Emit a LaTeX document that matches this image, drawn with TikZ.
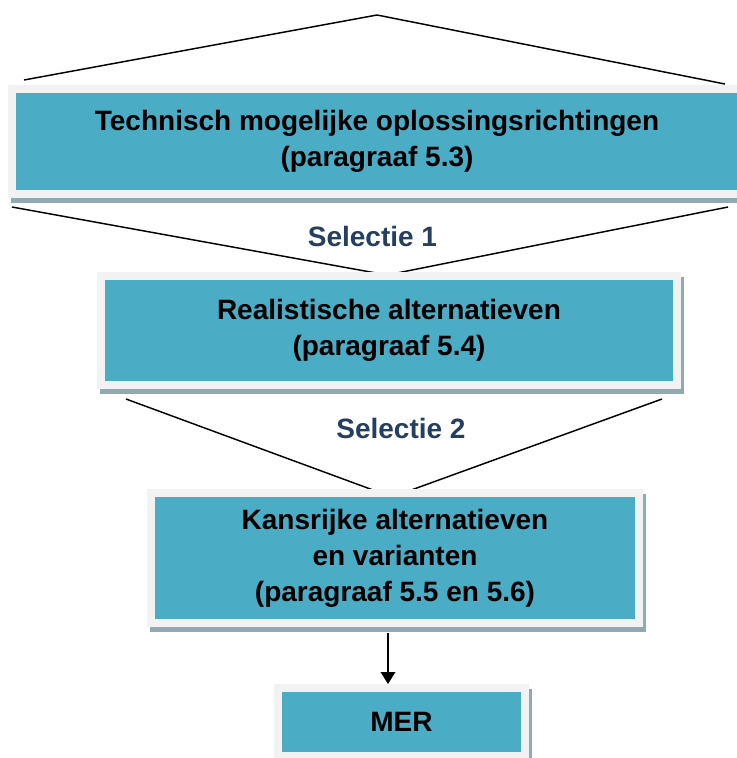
\documentclass[tikz,border=0pt]{standalone}
\usepackage{fontspec}
\setmainfont{Liberation Sans}
\usetikzlibrary{positioning,arrows.meta,calc,backgrounds}
\definecolor{stagefill}{RGB}{75,172,198}
\definecolor{stageframe}{RGB}{242,242,242}
\definecolor{stageshadow}{RGB}{143,170,177}
\definecolor{selectblue}{RGB}{36,63,96}

\begin{document}
\begin{tikzpicture}[x=0.75pt,y=-0.75pt,
  stagebox/.style={fill=stagefill,draw=stageframe,line width=6pt,align=center,inner sep=0pt,
    font=\fontsize{21}{27}\selectfont\bfseries},
  selnote/.style={text=selectblue,font=\fontsize{21}{27}\selectfont\bfseries},
  funnel/.style={line width=1.1pt}]

\useasboundingbox (0,0) rectangle (737,758);

\node[stagebox,minimum width=547.5pt,minimum height=78.75pt] (techbox) at (377,141.5) {Technisch mogelijke oplossingsrichtingen\\(paragraaf 5.3)};
\node[stagebox,minimum width=432pt,minimum height=81.75pt] (realbox) at (389,330.5) {Realistische alternatieven\\(paragraaf 5.4)};
\node[stagebox,minimum width=366pt,minimum height=97.5pt] (kansbox) at (395,558) {Kansrijke alternatieven\\en varianten\\(paragraaf 5.5 en 5.6)};
\node[stagebox,minimum width=185.25pt,minimum height=51pt] (merbox) at (401.5,722) {MER};

\node[selnote] (sel1) at (372.5,236) {Selectie 1};
\node[selnote] (sel2) at (401,428) {Selectie 2};

\coordinate (roofL) at (24,80);
\coordinate (roofT) at (377,15);
\coordinate (roofR) at (725,84);
\coordinate (s1L) at (12,207);
\coordinate (s1M) at (387,275);
\coordinate (s1R) at (728,207);
\coordinate (s2L) at (126,399);
\coordinate (s2M) at (392,497);
\coordinate (s2R) at (662,399);
\coordinate (arrowx) at (388,0);

\begin{scope}[on background layer]
\draw[funnel] (roofL) -- (roofT) -- (roofR);
\draw[funnel] (s1L) -- (s1M) -- (s1R);
\draw[funnel] (s2L) -- (s2M) -- (s2R);
\foreach \b in {techbox,realbox,kansbox,merbox}
  \fill[stageshadow] ($(\b.north west)+(3,5)$) rectangle ($(\b.south east)+(3,5)$);
\end{scope}

\draw[-{Triangle[length=9pt,width=11pt]},line width=1.1pt] ($(kansbox.south -| arrowx)+(0,6)$) -- (merbox.north -| arrowx);
\end{tikzpicture}
\end{document}
